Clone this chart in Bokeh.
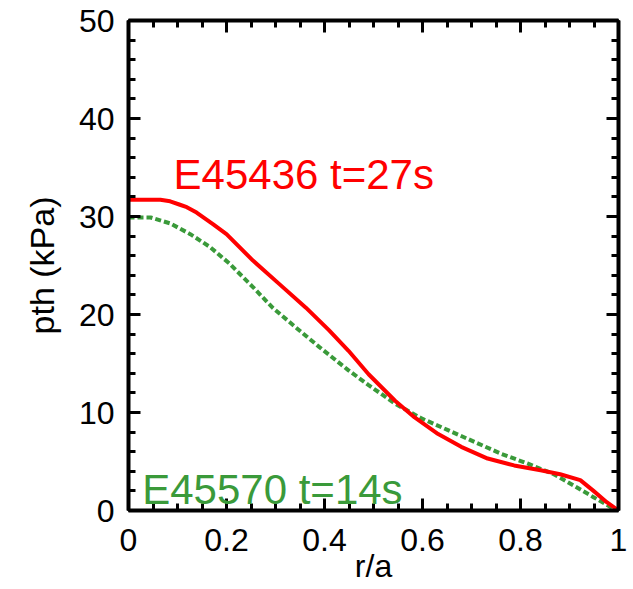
from bokeh.plotting import figure
from bokeh.models import (Range1d, FixedTicker, LinearAxis, Label, NumeralTickFormatter,
                          CustomLabelingPolicy)
from bokeh.embed import file_html
from bokeh.resources import INLINE
import numpy as np

# data
r_red = [0.0, 0.065, 0.085, 0.105, 0.119, 0.139, 0.173, 0.200, 0.254, 0.308, 0.362,
         0.409, 0.449, 0.490, 0.544, 0.584, 0.632, 0.679, 0.733, 0.787, 0.841, 0.881,
         0.922, 0.949, 0.976, 1.0]
p_red = [31.7, 31.7, 31.55, 31.2, 30.95, 30.4, 29.2, 28.2, 25.5, 23.1, 20.7,
         18.4, 16.3, 13.9, 11.2, 9.5, 7.8, 6.5, 5.3, 4.6, 4.1, 3.7,
         3.1, 2.0, 0.85, 0.0]

r_green = [0.0, 0.045, 0.085, 0.126, 0.166, 0.206, 0.254, 0.294, 0.341, 0.389, 0.449,
           0.490, 0.544, 0.598, 0.652, 0.706, 0.760, 0.814, 0.868, 0.908, 0.949, 0.989, 1.0]
p_green = [29.9, 29.9, 29.3, 28.2, 26.9, 25.2, 22.8, 20.7, 18.7, 16.7, 14.3,
           12.8, 10.9, 9.4, 8.2, 7.0, 5.8, 4.8, 3.7, 2.55, 1.36, 0.2, 0.0]

x_ticks = [0, 0.2, 0.4, 0.6, 0.8, 1.0]
y_ticks = [0, 10, 20, 30, 40, 50]
label_red = "E45436 t=27s"
label_green = "E45570 t=14s"
x_title = "r/a"
y_title = "pth (kPa)"

FONT = "Liberation Sans"
RED = "#ff0000"
GREEN = "#3a9a3a"

p = figure(width=633, height=589, output_backend="svg", toolbar_location=None,
           x_range=Range1d(0, 1), y_range=Range1d(0, 50),
           min_border_left=128, min_border_right=11, min_border_top=20, min_border_bottom=79,
           x_axis_location=None, y_axis_location=None)
p.outline_line_color = None
p.grid.visible = False
p.background_fill_color = "white"
p.border_fill_color = "white"

x_minor = [round(v, 3) for v in np.arange(0, 1.0001, 0.05)]
y_minor = [float(v) for v in np.arange(0, 50.001, 2)]

no_labels = CustomLabelingPolicy(code="return new Set()")

def style(ax, show_labels):
    ax.axis_line_width = 4
    ax.axis_line_color = "black"
    ax.major_tick_in = 12
    ax.major_tick_out = 0
    ax.minor_tick_in = 7
    ax.minor_tick_out = 0
    ax.major_tick_line_width = 3
    ax.minor_tick_line_width = 3
    if show_labels:
        ax.major_label_text_font = FONT
        ax.major_label_text_font_size = "32px"
        ax.major_label_text_color = "black"
        ax.axis_label_text_font = FONT
        ax.axis_label_text_font_style = "normal"
        ax.axis_label_text_color = "black"
    else:
        ax.major_label_policy = no_labels
        ax.major_label_standoff = 0

xb = LinearAxis(ticker=FixedTicker(ticks=x_ticks, minor_ticks=x_minor),
                formatter=NumeralTickFormatter(format="0.[0]"), axis_label=x_title)
style(xb, True)
xb.axis_label_text_font_size = "32px"
xb.major_label_standoff = 18
xb.axis_label_standoff = -6
p.add_layout(xb, "below")

yl = LinearAxis(ticker=FixedTicker(ticks=y_ticks, minor_ticks=y_minor), axis_label=y_title)
style(yl, True)
yl.axis_label_text_font_size = "34px"
yl.major_label_standoff = 14
yl.axis_label_standoff = 15
p.add_layout(yl, "left")

xt = LinearAxis(ticker=FixedTicker(ticks=x_ticks, minor_ticks=x_minor))
style(xt, False)
p.add_layout(xt, "above")

yr = LinearAxis(ticker=FixedTicker(ticks=y_ticks, minor_ticks=y_minor))
style(yr, False)
p.add_layout(yr, "right")

p.line(r_green, p_green, line_color=GREEN, line_width=4, line_dash="6 3")
p.line(r_red, p_red, line_color=RED, line_width=4, line_join="round")

p.add_layout(Label(x=0.092, y=34.3, text=label_red, text_color=RED, text_font=FONT,
                   text_font_size="42px", text_baseline="alphabetic"))
p.add_layout(Label(x=0.028, y=2.1, text=label_green, text_color=GREEN, text_font=FONT,
                   text_font_size="42px", text_baseline="alphabetic"))

open("out.html", "w").write(file_html(p, INLINE))
